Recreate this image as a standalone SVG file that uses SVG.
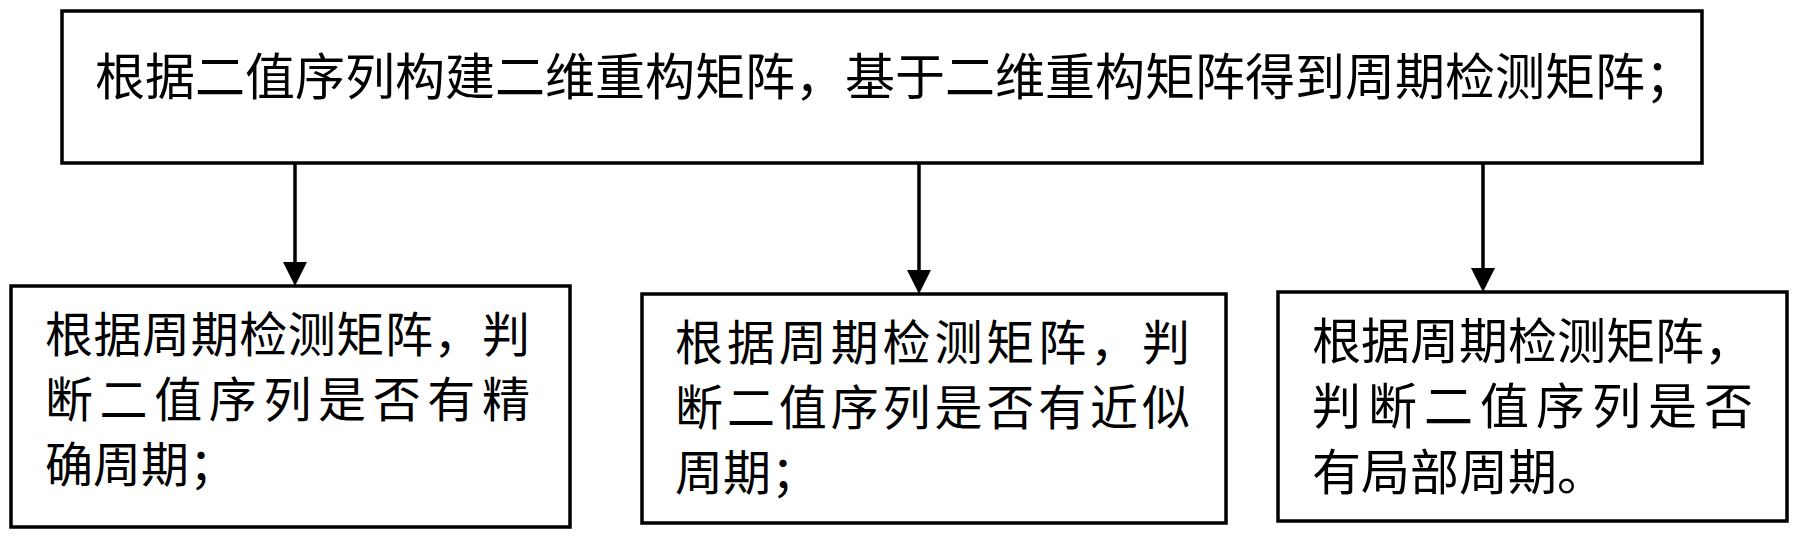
<svg xmlns="http://www.w3.org/2000/svg" width="1800" height="537" viewBox="0 0 1800 537">
<style>
.box{fill:#fff;stroke:#000;stroke-width:3.5}
.t{font-family:"Noto Sans CJK SC","Noto Sans CJK JP",sans-serif;fill:#000}
.c{stroke:#000;stroke-width:3.5;fill:none}
</style>
<defs>
<marker id="ah" markerUnits="userSpaceOnUse" markerWidth="24" markerHeight="24" viewBox="0 0 24 24" refX="0" refY="12" orient="auto">
<path d="M0,0 L24,12 L0,24 Z" fill="#000"/>
</marker>
</defs>
<rect width="1800" height="537" fill="#fff"/>
<g id="connectors">
<line class="c" x1="295" y1="163" x2="295" y2="262" marker-end="url(#ah)"/>
<line class="c" x1="919" y1="163" x2="919" y2="270" marker-end="url(#ah)"/>
<line class="c" x1="1483" y1="163" x2="1483" y2="268" marker-end="url(#ah)"/>
</g>
<g id="top">
<rect class="box" x="62" y="11" width="1640" height="152"/>
<text class="t" x="95" y="95" font-size="50">根据二值序列构建二维重构矩阵，基于二维重构矩阵得到周期检测矩阵；</text>
</g>
<g id="exact">
<rect class="box" x="11" y="286" width="559" height="241"/>
<text class="t" x="45" y="352" font-size="48" textLength="485" lengthAdjust="spacing">根据周期检测矩阵，判</text>
<text class="t" x="45" y="417" font-size="48" textLength="485" lengthAdjust="spacing">断二值序列是否有精</text>
<text class="t" x="45" y="482" font-size="48">确周期；</text>
</g>
<g id="approx">
<rect class="box" x="642" y="294" width="584" height="229"/>
<text class="t" x="675" y="360" font-size="48" textLength="515" lengthAdjust="spacing">根据周期检测矩阵，判</text>
<text class="t" x="675" y="425" font-size="48" textLength="515" lengthAdjust="spacing">断二值序列是否有近似</text>
<text class="t" x="675" y="490" font-size="48">周期；</text>
</g>
<g id="local">
<rect class="box" x="1278" y="292" width="509" height="229"/>
<text class="t" x="1312" y="359" font-size="49" textLength="441" lengthAdjust="spacing">根据周期检测矩阵，</text>
<text class="t" x="1312" y="424" font-size="49" textLength="441" lengthAdjust="spacing">判断二值序列是否</text>
<text class="t" x="1312" y="490" font-size="49">有局部周期。</text>
</g>
</svg>
